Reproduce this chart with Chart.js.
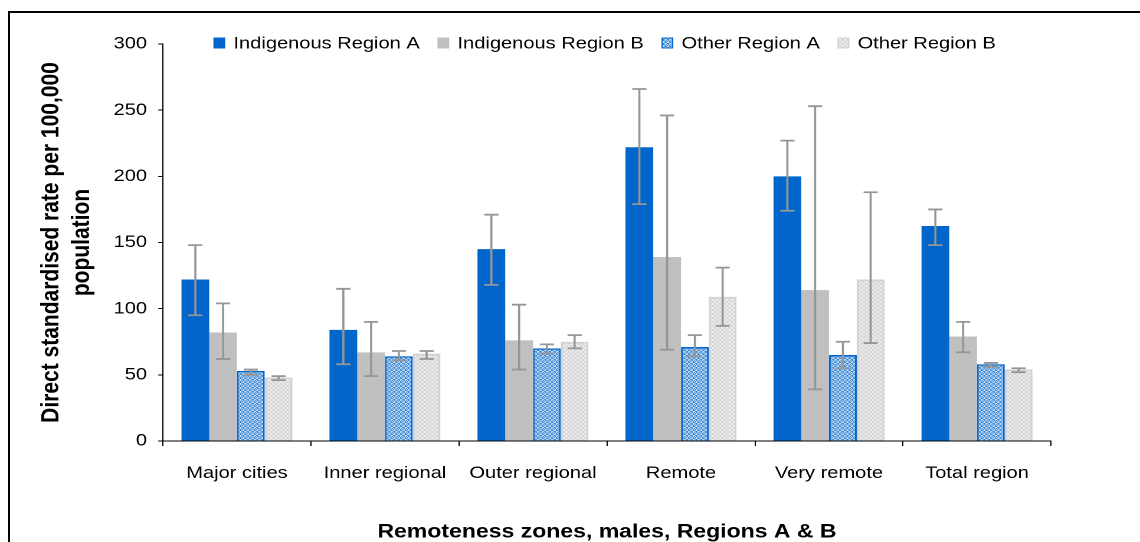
<!DOCTYPE html>
<html>
<head>
<meta charset="utf-8">
<script src="https://cdn.jsdelivr.net/npm/chart.js@4"></script>
<style>
  html, body { margin: 0; padding: 0; background: #fff; overflow: hidden; width: 1140px; height: 542px; }
  #frame { position: absolute; left: 8px; top: 11px; width: 1200px; height: 600px; border: 2px solid #000; }
  #wrap { position: absolute; left: 0; top: 0; width: 966px; height: 542px; transform: scaleX(1.1801); transform-origin: 0 0; }
</style>
</head>
<body>
<div id="frame"></div>
<div id="wrap"><canvas id="grafico" width="966" height="542"></canvas></div>
<script>
// datos
const categorias = ['Major cities', 'Inner regional', 'Outer regional', 'Remote', 'Very remote', 'Total region'];
const series = ['Indigenous Region A', 'Indigenous Region B', 'Other Region A', 'Other Region B'];

const indA = [122, 84, 145, 222, 200, 162.5];
const indALo = [95, 58, 118, 179, 174, 148];
const indAHi = [148, 115, 171, 266, 227, 175];

const indB = [82, 67, 76, 139, 114, 79];
const indBLo = [62, 49, 54, 69, 39, 67];
const indBHi = [104, 90, 103, 246, 253, 90];

const otrA = [53, 64, 70, 71, 65, 58];
const otrALo = [50, 61, 66, 64, 55, 56];
const otrAHi = [54, 68, 73, 80, 75, 59];

const otrB = [48, 66, 75, 109, 122, 54];
const otrBLo = [46, 62, 70, 87, 74, 52];
const otrBHi = [49, 68, 80, 131, 188, 55];

const yTicks = [0, 50, 100, 150, 200, 250, 300];

// patrones de relleno
function patron(color, fondo) {
  const c = document.createElement('canvas');
  c.width = 4; c.height = 4;
  const g = c.getContext('2d');
  g.fillStyle = fondo; g.fillRect(0, 0, 4, 4);
  g.fillStyle = color;
  [[0,0],[2,0],[1,1],[3,1],[0,2],[3,2],[1,3],[2,3]].forEach(p => g.fillRect(p[0], p[1], 1, 1));
  return g.createPattern(c, 'repeat');
}
const patA = patron('#0066cc', '#ffffff');
const patB = patron('#c4c4c4', '#ffffff');

Chart.defaults.font.family = "'Liberation Sans', Arial, sans-serif";
Chart.defaults.font.size = 17;
Chart.defaults.color = '#000';

// barras de error
const errores = {
  id: 'errores',
  afterDatasetsDraw(chart) {
    const ctx = chart.ctx;
    const y = chart.scales.y;
    ctx.save();
    ctx.strokeStyle = '#969696';
    ctx.lineWidth = 1.8;
    chart.data.datasets.forEach((ds, i) => {
      chart.getDatasetMeta(i).data.forEach((bar, j) => {
        const yl = y.getPixelForValue(ds.lo[j]);
        const yh = y.getPixelForValue(ds.hi[j]);
        ctx.beginPath();
        ctx.moveTo(bar.x, yl); ctx.lineTo(bar.x, yh);
        ctx.moveTo(bar.x - 6, yl); ctx.lineTo(bar.x + 6, yl);
        ctx.moveTo(bar.x - 6, yh); ctx.lineTo(bar.x + 6, yh);
        ctx.stroke();
      });
    });
    ctx.restore();
  }
};

// leyenda dentro del area
const leyenda = {
  id: 'leyenda',
  afterDraw(chart) {
    const ctx = chart.ctx;
    const area = chart.chartArea;
    ctx.save();
    ctx.font = "17px 'Liberation Sans', Arial, sans-serif";
    const anchos = chart.data.datasets.map(ds => 10 + 7 + ctx.measureText(ds.label).width);
    const total = anchos.reduce((a, b) => a + b, 0) + 15 * (anchos.length - 1);
    let x = (area.left + area.right) / 2 - 2 - total / 2;
    const yc = 43;
    chart.data.datasets.forEach((ds, i) => {
      ctx.fillStyle = ds.backgroundColor;
      ctx.fillRect(x, yc - 5.5, 10, 11);
      if (ds.borderWidth) {
        ctx.strokeStyle = ds.borderColor;
        ctx.lineWidth = 1;
        ctx.strokeRect(x + 0.5, yc - 5, 9, 10);
      }
      ctx.fillStyle = '#000';
      ctx.textBaseline = 'middle';
      ctx.fillText(ds.label, x + 17, yc + 1);
      x += anchos[i] + 15;
    });
    ctx.restore();
  }
};

new Chart(document.getElementById('grafico'), {
  type: 'bar',
  data: {
    labels: categorias,
    datasets: [
      { label: series[0], data: indA, lo: indALo, hi: indAHi, backgroundColor: '#0066cc', borderWidth: 0 },
      { label: series[1], data: indB, lo: indBLo, hi: indBHi, backgroundColor: '#c0c0c0', borderWidth: 0 },
      { label: series[2], data: otrA, lo: otrALo, hi: otrAHi, backgroundColor: patA, borderColor: '#0066cc', borderWidth: 1.5 },
      { label: series[3], data: otrB, lo: otrBLo, hi: otrBHi, backgroundColor: patB, borderColor: '#d2d2d2', borderWidth: 1.8 }
    ]
  },
  options: {
    responsive: false,
    animation: false,
    devicePixelRatio: 2,
    categoryPercentage: 0.75,
    barPercentage: 1,
    layout: { padding: { left: 0, top: 44, right: 75.4, bottom: 0 } },
    plugins: { legend: { display: false }, tooltip: { enabled: false } },
    scales: {
      x: {
        grid: { display: true, drawOnChartArea: false, offset: true, color: '#000', tickLength: 5 },
        border: { display: true, color: '#000', width: 1 },
        ticks: { padding: 17, maxRotation: 0, font: { size: 17 } },
        title: {
          display: true,
          text: 'Remoteness zones, males, Regions A & B',
          font: { size: 19.5, weight: 'bold' },
          padding: { top: 0, bottom: -2 }
        },
        afterFit(s) { s.height = 101; }
      },
      y: {
        min: 0,
        max: 300,
        afterBuildTicks(s) { s.ticks = yTicks.map(v => ({ value: v })); },
        grid: { display: true, drawOnChartArea: false, color: '#000', tickLength: 4 },
        border: { display: true, color: '#000', width: 1 },
        ticks: { padding: 9.5, font: { size: 17 } },
        title: {
          display: true,
          text: ['Direct standardised rate per 100,000', 'population'],
          font: { size: 21, weight: 'bold', lineHeight: 1.25 },
          padding: { top: 30.5, bottom: 0 }
        },
        afterFit(s) { s.width = 138.1; }
      }
    }
  },
  plugins: [errores, leyenda]
});
</script>
</body>
</html>
